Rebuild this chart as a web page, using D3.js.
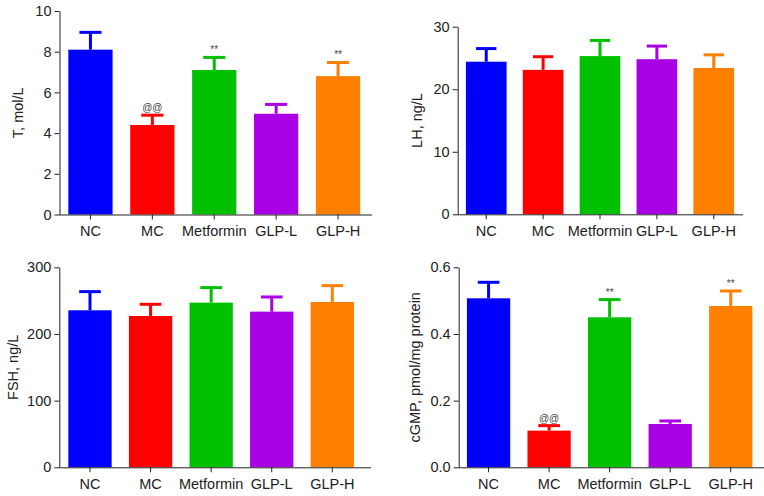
<!DOCTYPE html>
<html>
<head>
<meta charset="utf-8">
<script src="https://cdn.jsdelivr.net/npm/d3@7"></script>
<style>
  body { margin: 0; background: #fff; }
  svg { display: block; font-family: "Liberation Sans", Arial, sans-serif; }
</style>
</head>
<body>
<script>
// groups
const categories = ["NC", "MC", "Metformin", "GLP-L", "GLP-H"];
const barColors = ["#0000ff", "#ff0000", "#00c000", "#aa00e6", "#ff8000"];

// T, mol/L
const tMean = [8.1, 4.4, 7.1, 4.95, 6.8];
const tErr = [0.85, 0.48, 0.62, 0.46, 0.67];
const tMarks = ["", "@@", "**", "", "**"];

// LH, ng/L
const lhMean = [24.4, 23.1, 25.3, 24.8, 23.4];
const lhErr = [2.1, 2.1, 2.5, 2.1, 2.1];

// FSH, ng/L
const fshMean = [235.5, 227, 247, 233.5, 248];
const fshErr = [28, 17.5, 22.5, 22, 24.5];

// cGMP, pmol/mg protein
const cgmpMean = [0.507, 0.11, 0.45, 0.13, 0.484];
const cgmpErr = [0.048, 0.015, 0.053, 0.009, 0.045];
const cgmpMarks = ["", "@@", "**", "", "**"];

const W = 764, H = 496;
const svg = d3.select("body").append("svg")
  .attr("width", W).attr("height", H);

const panels = [
  { label: "T, mol/L", mean: tMean, err: tErr, marks: tMarks, max: 10, step: 2, fmt: d3.format("d"),
    ax: [59.5, 372], band: [59.5, 369], y: [214.5, 11], labelX: 13 },
  { label: "LH, ng/L", mean: lhMean, err: lhErr, marks: null, max: 30, step: 10, fmt: d3.format("d"),
    ax: [457.7, 743], band: [457.8, 742.2], y: [214.3, 26.7], labelX: 412 },
  { label: "FSH, ng/L", mean: fshMean, err: fshErr, marks: null, max: 300, step: 100, fmt: d3.format("d"),
    ax: [59.3, 371], band: [59.7, 362.6], y: [467.3, 267.3], labelX: 8 },
  { label: "cGMP, pmol/mg protein", mean: cgmpMean, err: cgmpErr, marks: cgmpMarks, max: 0.6, step: 0.2, fmt: d3.format(".1f"),
    ax: [458.7, 764], band: [458.3, 761], y: [467.3, 267.3], labelX: 410 }
];

panels.forEach(p => {
  const g = svg.append("g");
  const x = d3.scaleBand().domain(categories).range(p.band).paddingInner(0.285).paddingOuter(0.1425);
  const y = d3.scaleLinear().domain([0, p.max]).range(p.y);
  const ticks = d3.range(0, p.max + p.step / 2, p.step);

  // bars
  g.selectAll("rect.bar")
    .data(categories)
    .join("rect")
    .attr("class", "bar")
    .attr("x", d => x(d))
    .attr("width", x.bandwidth())
    .attr("y", (d, i) => y(p.mean[i]))
    .attr("height", (d, i) => y(0) - y(p.mean[i]))
    .attr("fill", (d, i) => barColors[i]);

  // error bars (upper only)
  const capW = x.bandwidth() / 2;
  const eb = g.selectAll("g.err")
    .data(categories)
    .join("g")
    .attr("class", "err")
    .attr("stroke", (d, i) => barColors[i])
    .attr("stroke-width", 3);
  eb.append("line")
    .attr("x1", d => x(d) + x.bandwidth() / 2)
    .attr("x2", d => x(d) + x.bandwidth() / 2)
    .attr("y1", (d, i) => y(p.mean[i]))
    .attr("y2", (d, i) => y(p.mean[i] + p.err[i]));
  eb.append("line")
    .attr("x1", d => x(d) + x.bandwidth() / 2 - capW / 2)
    .attr("x2", d => x(d) + x.bandwidth() / 2 + capW / 2)
    .attr("y1", (d, i) => y(p.mean[i] + p.err[i]))
    .attr("y2", (d, i) => y(p.mean[i] + p.err[i]));

  // significance marks
  if (p.marks) {
    g.selectAll("text.mark")
      .data(categories)
      .join("text")
      .attr("class", "mark")
      .attr("x", d => x(d) + x.bandwidth() / 2)
      .attr("y", (d, i) => y(p.mean[i] + p.err[i]) - 4)
      .attr("text-anchor", "middle")
      .attr("font-size", 10)
      .attr("fill", "#444")
      .text((d, i) => p.marks[i]);
  }

  // y axis
  const yAxis = g.append("g")
    .attr("transform", `translate(${p.ax[0]},0)`)
    .call(d3.axisLeft(y).tickValues(ticks).tickFormat(p.fmt).tickSize(5).tickSizeOuter(0));
  yAxis.select(".domain").attr("stroke", "#222");
  yAxis.selectAll(".tick line").attr("stroke", "#222");
  yAxis.selectAll("text").attr("font-size", 14.5).attr("fill", "#222")
    .attr("font-family", "Liberation Sans, Arial, sans-serif").attr("x", -8);

  // x axis
  const xAxis = g.append("g")
    .attr("transform", `translate(0,${p.y[0]})`)
    .call(d3.axisBottom(x).tickSize(5).tickSizeOuter(0));
  xAxis.select(".domain").attr("d", `M${p.ax[0]},0.5H${p.ax[1]}`).attr("stroke", "#222");
  xAxis.selectAll(".tick line").attr("stroke", "#222");
  xAxis.selectAll("text").attr("font-size", 14.5).attr("fill", "#222")
    .attr("font-family", "Liberation Sans, Arial, sans-serif").attr("y", 11);

  // y label
  g.append("text")
    .attr("transform", `translate(${p.labelX + 5},${(p.y[0] + p.y[1]) / 2}) rotate(-90)`)
    .attr("text-anchor", "middle")
    .attr("dy", "0.35em")
    .attr("font-size", 14.5)
    .attr("fill", "#222")
    .text(p.label);
});
</script>
</body>
</html>
